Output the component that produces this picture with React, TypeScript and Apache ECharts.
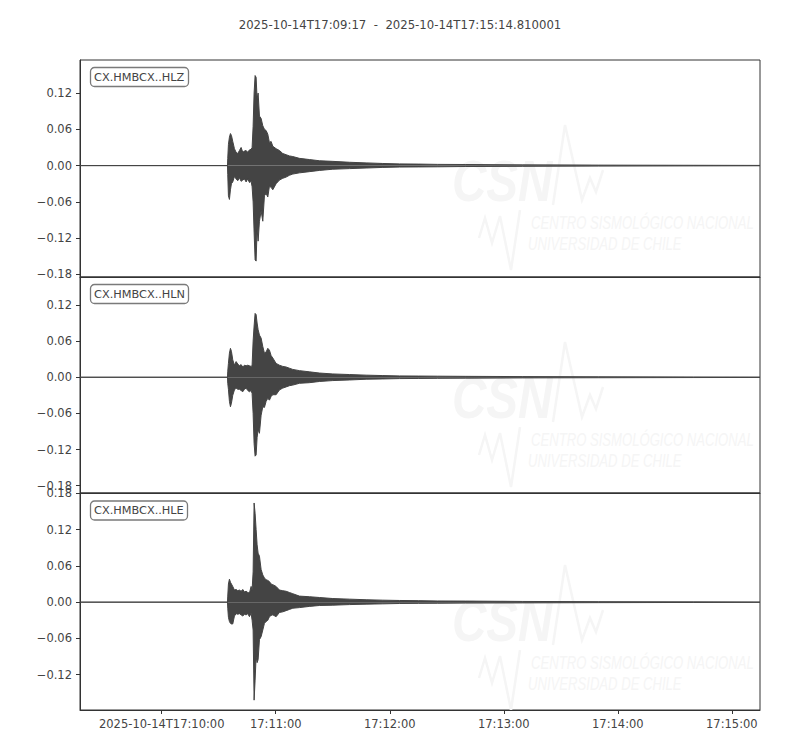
import React, { useEffect, useRef } from "react";
import * as echarts from "echarts";

// time in seconds relative to 2025-10-14T17:10:00
const timeSec = [
  -43, 34.6, 34.75, 35.1, 35.63, 36.16, 36.68, 37.38, 38.26, 39.14, 40.02, 40.9, 41.77, 42.65,
  43.53, 44.4, 45.28, 46.16, 47.04, 47.56, 48.09, 48.61, 49.14, 49.67, 50.19, 50.72, 51.42,
  52.3, 53.18, 54.05, 54.93, 55.81, 56.68, 57.56, 58.44, 60.19, 61.95, 63.7, 65.46, 67.21,
  68.96, 72.47, 77.74, 83.0, 90.02, 98.79, 107.56, 116.33, 125.1, 135, 145, 160, 190, 230,
  280, 314.81,
];

const hlzMax = [
  0, 0, 0.012, 0.035, 0.047, 0.053, 0.05, 0.04, 0.028, 0.022, 0.02, 0.025, 0.03, 0.022, 0.024,
  0.025, 0.022, 0.026, 0.027, 0.03, 0.065, 0.12, 0.149, 0.146, 0.11, 0.12, 0.082, 0.078, 0.066,
  0.06, 0.058, 0.052, 0.038, 0.04, 0.032, 0.028, 0.025, 0.02, 0.018, 0.016, 0.015, 0.012, 0.01,
  0.008, 0.007, 0.0055, 0.0045, 0.0035, 0.0028, 0.0025, 0.002, 0.0018, 0.0012, 0.0008, 0.0005,
  0.0003,
];
const hlzMin = [
  0, 0, -0.015, -0.05, -0.056, -0.04, -0.03, -0.027, -0.018, -0.022, -0.025, -0.02, -0.026,
  -0.024, -0.022, -0.027, -0.022, -0.028, -0.026, -0.035, -0.06, -0.11, -0.156, -0.158, -0.105,
  -0.125, -0.092, -0.075, -0.092, -0.05, -0.046, -0.052, -0.034, -0.036, -0.04, -0.03, -0.024,
  -0.021, -0.019, -0.016, -0.014, -0.012, -0.01, -0.008, -0.006, -0.005, -0.004, -0.003,
  -0.0024, -0.0022, -0.002, -0.0015, -0.0012, -0.0008, -0.0005, -0.0003,
];

const hlnMax = [
  0, 0, 0.01, 0.023, 0.04, 0.048, 0.043, 0.029, 0.02, 0.026, 0.022, 0.019, 0.021, 0.017, 0.02,
  0.019, 0.02, 0.019, 0.018, 0.02, 0.06, 0.085, 0.106, 0.104, 0.09, 0.079, 0.07, 0.065, 0.051,
  0.04, 0.042, 0.048, 0.045, 0.036, 0.032, 0.023, 0.02, 0.018, 0.017, 0.015, 0.013, 0.011,
  0.009, 0.007, 0.0055, 0.0045, 0.0035, 0.0028, 0.0022, 0.002, 0.0018, 0.0015, 0.0011, 0.0008,
  0.0005, 0.0003,
];
const hlnMin = [
  0, 0, -0.01, -0.02, -0.04, -0.049, -0.043, -0.03, -0.021, -0.018, -0.02, -0.02, -0.022,
  -0.024, -0.02, -0.018, -0.022, -0.024, -0.022, -0.027, -0.06, -0.11, -0.131, -0.129, -0.1,
  -0.087, -0.093, -0.063, -0.049, -0.05, -0.04, -0.035, -0.038, -0.032, -0.029, -0.029, -0.021,
  -0.018, -0.016, -0.014, -0.013, -0.01, -0.009, -0.007, -0.0055, -0.0045, -0.0033, -0.0028,
  -0.0022, -0.002, -0.0018, -0.0015, -0.0011, -0.0008, -0.0005, -0.0003,
];

const hleMax = [
  0, 0, 0.01, 0.03, 0.038, 0.033, 0.03, 0.026, 0.02, 0.021, 0.019, 0.02, 0.018, 0.021, 0.017,
  0.018, 0.016, 0.015, 0.026, 0.02, 0.05, 0.164, 0.147, 0.12, 0.095, 0.081, 0.076, 0.054, 0.045,
  0.04, 0.037, 0.036, 0.034, 0.03, 0.029, 0.026, 0.02, 0.019, 0.018, 0.016, 0.014, 0.01, 0.009,
  0.0077, 0.006, 0.005, 0.004, 0.0033, 0.0028, 0.0025, 0.002, 0.0018, 0.0012, 0.0008, 0.0005,
  0.0003,
];
const hleMin = [
  0, 0, -0.01, -0.025, -0.032, -0.035, -0.036, -0.036, -0.023, -0.019, -0.02, -0.019, -0.021,
  -0.023, -0.02, -0.021, -0.019, -0.024, -0.018, -0.03, -0.046, -0.162, -0.129, -0.09, -0.1,
  -0.095, -0.062, -0.057, -0.046, -0.035, -0.032, -0.03, -0.024, -0.022, -0.021, -0.024, -0.017,
  -0.016, -0.014, -0.012, -0.01, -0.009, -0.007, -0.0055, -0.005, -0.004, -0.0033, -0.0028,
  -0.0022, -0.002, -0.0018, -0.0015, -0.0012, -0.0008, -0.0005, -0.0003,
];

const traceNames = ["CX.HMBCX..HLZ", "CX.HMBCX..HLN", "CX.HMBCX..HLE"];
const titleText = "2025-10-14T17:09:17  -  2025-10-14T17:15:14.810001";

const xTicks = [0, 60, 120, 180, 240, 300];
const xTickLabels = [
  "2025-10-14T17:10:00",
  "17:11:00",
  "17:12:00",
  "17:13:00",
  "17:14:00",
  "17:15:00",
];
const yTicksZ = [-0.18, -0.12, -0.06, 0, 0.06, 0.12];
const yTicksN = [-0.18, -0.12, -0.06, 0, 0.06, 0.12];
const yTicksE = [-0.12, -0.06, 0, 0.06, 0.12, 0.18];
const yLimits = [
  [-0.1843, 0.1747],
  [-0.1921, 0.1664],
  [-0.1783, 0.1805],
];

const FONT = '"DejaVu Sans", sans-serif';
const TEXT = "#444444";
const AXIS = "#333333";
const TRACE = "#444444";
const WM = "#f5f5f5";
const WM_FONT = '"Liberation Sans", sans-serif';

function watermark(dy: number) {
  return {
    type: "group",
    x: 0,
    y: dy,
    z: 1,
    silent: true,
    children: [
      {
        type: "text",
        x: 452,
        y: 152,
        scaleX: 0.82,
        style: {
          text: "CSN",
          font: `italic bold 58px ${WM_FONT}`,
          fill: WM,
          verticalAlign: "top",
        },
      },
      {
        type: "polyline",
        shape: { points: [[553, 205], [565, 125], [582, 200], [590, 178], [596, 192], [603, 170]] },
        style: { stroke: WM, lineWidth: 2.5, fill: null },
      },
      {
        type: "polyline",
        shape: { points: [[479, 238], [485, 218], [492, 243], [500, 216], [511, 270], [520, 210]] },
        style: { stroke: WM, lineWidth: 2.5, fill: null },
      },
      {
        type: "text",
        x: 531,
        y: 213,
        scaleX: 0.69,
        style: {
          text: "CENTRO SISMOLÓGICO NACIONAL",
          font: `italic 19px ${WM_FONT}`,
          fill: WM,
          verticalAlign: "top",
        },
      },
      {
        type: "text",
        x: 528,
        y: 234,
        scaleX: 0.69,
        style: {
          text: "UNIVERSIDAD DE CHILE",
          font: `italic 19px ${WM_FONT}`,
          fill: WM,
          verticalAlign: "top",
        },
      },
    ],
  };
}

export default function App() {
  const ref = useRef<HTMLDivElement>(null);

  useEffect(() => {
    if (!ref.current) return;
    const chart = echarts.init(ref.current, null, { renderer: "svg" });

    const grids = [
      { left: 80, top: 60, width: 680, height: 217 },
      { left: 80, top: 277, width: 680, height: 216 },
      { left: 80, top: 493, width: 680, height: 217 },
    ].map((g) => ({ ...g, show: true, borderColor: AXIS, borderWidth: 1, backgroundColor: "transparent" }));

    const traces = [
      [hlzMax, hlzMin],
      [hlnMax, hlnMin],
      [hleMax, hleMin],
    ];
    const yTicks = [yTicksZ, yTicksN, yTicksE];

    const fmtY = (v: number) => (v < -1e-9 ? "\u2212" : "") + Math.abs(v).toFixed(2);

    const xAxes = [0, 1, 2].map((i) => ({
      type: "value",
      gridIndex: i,
      min: -43,
      max: 314.81,
      axisLine: { show: true, onZero: false, lineStyle: { color: AXIS, width: 1 } },
      axisTick: { show: i === 2, length: 4, lineStyle: { color: AXIS }, customValues: xTicks },
      axisLabel: {
        show: i === 2,
        customValues: xTicks,
        formatter: (v: number) => xTickLabels[xTicks.indexOf(v)] ?? "",
        color: TEXT,
        fontSize: 11.5,
        fontFamily: FONT,
        margin: 8,
      },
      splitLine: { show: false },
    }));

    const yAxes = [0, 1, 2].map((i) => ({
      type: "value",
      gridIndex: i,
      min: yLimits[i][0],
      max: yLimits[i][1],
      axisLine: { show: true, onZero: false, lineStyle: { color: AXIS, width: 1 } },
      axisTick: { show: true, length: 4, lineStyle: { color: AXIS }, customValues: yTicks[i] },
      axisLabel: {
        customValues: yTicks[i],
        formatter: fmtY,
        color: TEXT,
        fontSize: 11.5,
        fontFamily: FONT,
        margin: 8,
      },
      splitLine: { show: false },
    }));

    const series: any[] = [];
    traces.forEach(([mx, mn], i) => {
      [mx, mn].forEach((arr, j) => {
        series.push({
          type: "line",
          name: traceNames[i] + (j === 0 ? " max" : " min"),
          xAxisIndex: i,
          yAxisIndex: i,
          data: timeSec.map((t, k) => [t, arr[k]]),
          symbol: "none",
          showSymbol: false,
          lineStyle: { color: TRACE, width: 1 },
          areaStyle: { color: TRACE, opacity: 1, origin: "auto" },
          z: 3,
        });
      });
    });

    const labelTops = [67, 284, 500.5];
    const titles: any[] = [
      {
        text: titleText,
        left: "center",
        top: 14,
        textStyle: { fontSize: 11.7, fontWeight: "normal", color: TEXT, fontFamily: FONT },
      },
      ...traceNames.map((name, i) => ({
        text: name,
        left: 90,
        top: labelTops[i],
        padding: [3, 4, 3, 4],
        borderColor: "#7a7a7a",
        borderWidth: 1.3,
        borderRadius: 4,
        backgroundColor: "#ffffff",
        textStyle: { fontSize: 11.3, fontWeight: "normal", color: TEXT, fontFamily: FONT, lineHeight: 14 },
      })),
    ];

    chart.setOption({
      animation: false,
      backgroundColor: "#ffffff",
      title: titles,
      grid: grids,
      xAxis: xAxes,
      yAxis: yAxes,
      series,
      graphic: { elements: [watermark(0), watermark(217), watermark(440)] },
    });

    return () => chart.dispose();
  }, []);

  return (
    <div
      ref={ref}
      style={{ position: "absolute", left: 0, top: 0, width: 800, height: 750 }}
    />
  );
}
